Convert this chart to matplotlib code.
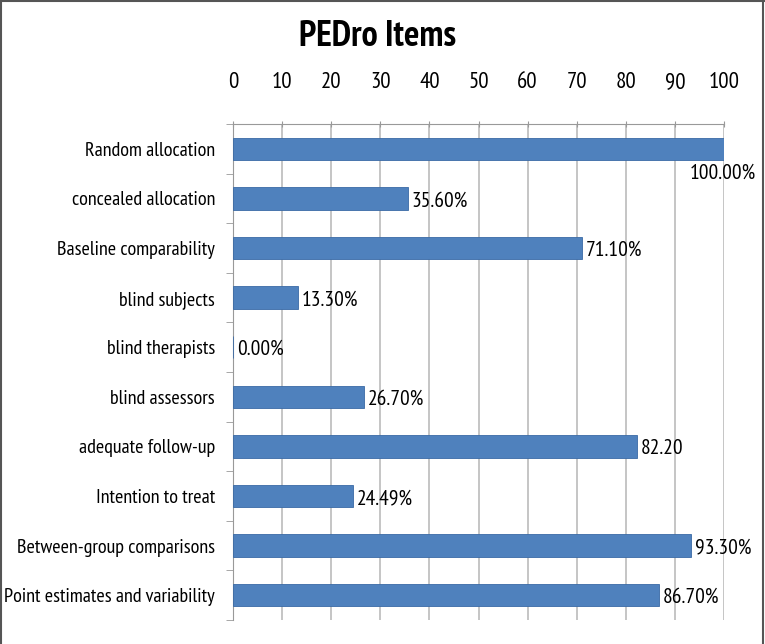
import matplotlib.pyplot as plt

plt.rcParams['font.family'] = ['PT Sans Narrow', 'Carlito', 'DejaVu Sans']

items = ['Random allocation', 'concealed allocation', 'Baseline comparability',
         'blind subjects', 'blind therapists', 'blind assessors',
         'adequate follow-up', 'Intention to treat',
         'Between-group comparisons', 'Point estimates and variability']
values = [100.0, 35.6, 71.1, 13.3, 0.0, 26.7, 82.2, 24.49, 93.3, 86.7]
labels = ['100.00%', '35.60%', '71.10%', '13.30%', '0.00%', '26.70%',
          '82.20', '24.49%', '93.30%', '86.70%']
ticks = list(range(0, 101, 10))

fig = plt.figure(figsize=(7.65, 6.44), dpi=100)
ax = fig.add_axes([233 / 765, 1 - 620 / 644, (724 - 233) / 765, (620 - 124) / 644])

pos = list(range(len(items)))
ax.barh(pos, values, height=0.45, color='#4f81bd', edgecolor='#3a6aa5', linewidth=0.6, zorder=3)
ax.set_ylim(len(items) - 0.5, -0.5)
ax.set_xlim(0, 100)
ax.set_yticks(pos)
ax.set_yticklabels(items, fontsize=14.5)
ax.set_yticks([p + 0.5 for p in pos[:-1]] + [-0.5, len(items) - 0.5], minor=True)
ax.tick_params(axis='y', which='major', length=0, pad=13)
ax.tick_params(axis='y', which='minor', length=5, color='#999999')
ax.xaxis.tick_top()
ax.set_xticks(ticks)
ax.tick_params(axis='x', length=5, direction='inout', color='#999999', labelsize=16.5, pad=20)
ax.grid(axis='x', color='#bbbbbb', linewidth=1.2, zorder=0)
for s in ['right', 'bottom']:
    ax.spines[s].set_visible(False)
ax.spines['top'].set_color('#999999')
ax.spines['left'].set_color('#999999')

for i, (v, t) in enumerate(zip(values, labels)):
    if v >= 100:
        ax.text(v + 6.5, i + 0.5, t, fontsize=15.5, ha='right', va='center', zorder=4)
    else:
        ax.text(v + 0.8, i + 0.05, t, fontsize=15.5, ha='left', va='center', zorder=4)

fig.text(378 / 765, 1 - 37 / 644, 'PEDro Items', fontsize=26, fontweight='bold',
         ha='center', va='center')

# frame around the picture
for xs, ys in [([0.001, 0.001], [0, 1]), ([0, 1], [0.999, 0.999]), ([0.998, 0.998], [0, 1])]:
    fig.add_artist(plt.Line2D(xs, ys, transform=fig.transFigure, color='#555555', linewidth=1.5))

fig.savefig('out.png', dpi=100)
